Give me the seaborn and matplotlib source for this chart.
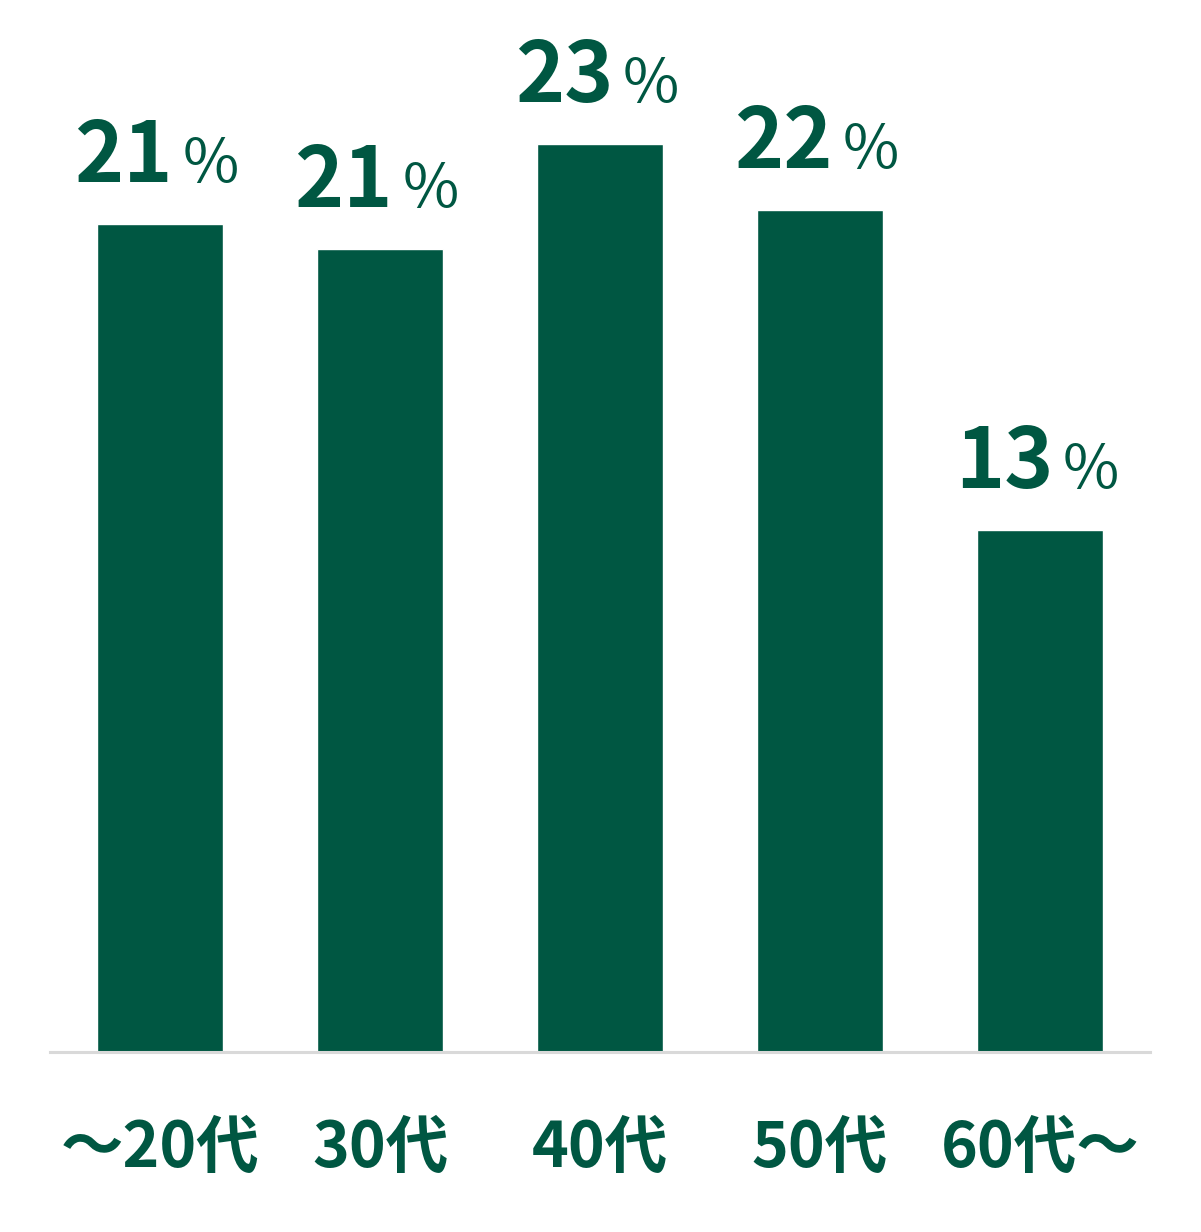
import matplotlib
matplotlib.use("Agg")
import matplotlib.pyplot as plt
import seaborn as sns
import pandas as pd

# age groups and share (%)
categories = ["～20代", "30代", "40代", "50代", "60代～"]
values = [21.25, 20.6, 23.3, 21.6, 13.4]

green = "#005742"

sns.set_style("white")
plt.rcParams['font.family'] = ['Noto Sans CJK JP', 'DejaVu Sans']

df = pd.DataFrame({"age": categories, "share": values})

fig = plt.figure(figsize=(12.01, 12.32), dpi=100)
ax = fig.add_axes([50 / 1201, 180 / 1232, 1100 / 1201, 1052 / 1232])
sns.barplot(data=df, x="age", y="share", color=green, width=0.57,
            saturation=1, ax=ax)

ax.set_xlim(-0.5, 4.5)
ax.set_ylim(0, 27.0)
ax.set_xlabel("")
ax.set_ylabel("")
ax.set_yticks([])
for s in ["top", "left", "right"]:
    ax.spines[s].set_visible(False)
ax.spines["bottom"].set_color("#d9d9d9")
ax.spines["bottom"].set_linewidth(2.2)
ax.tick_params(axis="x", length=0, pad=47)
for lbl in ax.get_xticklabels():
    lbl.set_fontsize(45)
    lbl.set_fontweight("bold")
    lbl.set_color(green)

# value labels: big number + smaller percent sign
for i, v in enumerate(values):
    ax.annotate(f"{round(v):d}", xy=(i, v), xytext=(13, 42), textcoords="offset pixels",
                ha="right", va="baseline", fontsize=60, fontweight="bold", color=green)
    ax.annotate("%", xy=(i, v), xytext=(23, 42), textcoords="offset pixels",
                ha="left", va="baseline", fontsize=44, color=green)

fig.savefig("out.png", dpi=100)
